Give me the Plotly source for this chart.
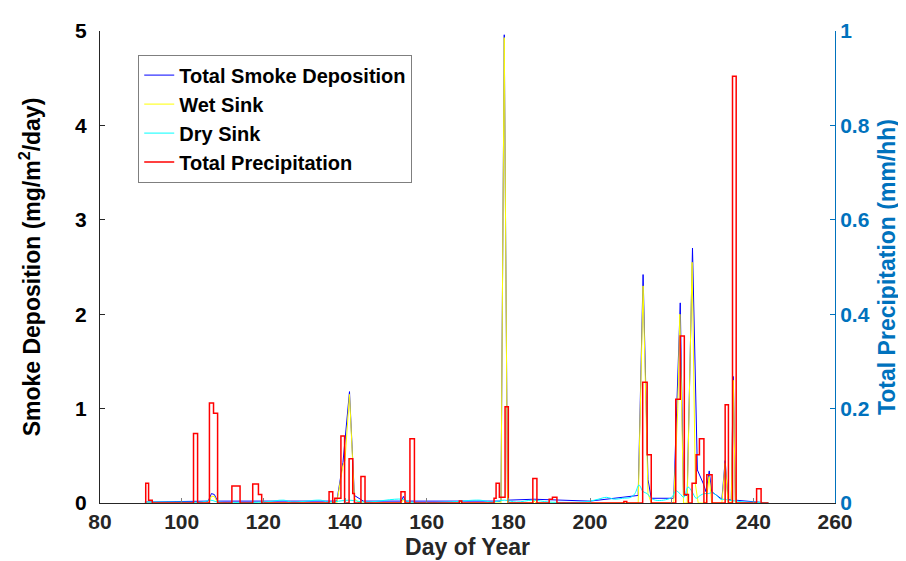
import plotly.graph_objects as go

# ---------------- data ----------------
# Total smoke deposition (mg/m^2/day)
total_day = [91.0, 106.5, 107.3, 108.0, 108.8, 138.0, 139.5, 141.1, 142.3, 143.5, 144.5,
             153.8, 154.3, 154.8, 178.2, 179.0, 179.8, 186.3, 200.0, 211.8, 213.0, 214.2,
             215.0, 220.5, 222.1, 222.9, 223.8, 225.1, 226.3, 227.8, 228.4, 229.2, 229.8,
             232.3, 233.1, 233.8, 234.6, 235.1, 235.6, 243.7]
total_val = [0.01, 0.02, 0.10, 0.09, 0.02, 0.02, 0.43, 1.18, 0.08, 0.05, 0.02,
             0.02, 0.07, 0.02, 0.02, 4.96, 0.03, 0.04, 0.02, 0.08, 2.42, 0.25,
             0.05, 0.05, 2.12, 0.08, 0.08, 2.70, 0.35, 0.20, 0.12, 0.34, 0.12,
             0.04, 0.45, 0.04, 0.03, 1.34, 0.03, 0.0]

# Wet sink (mg/m^2/day)
wet_day = [91.0, 106.5, 107.3, 108.0, 108.8, 138.0, 139.5, 140.0, 141.1, 142.3, 143.5,
           153.8, 154.3, 154.8, 178.2, 179.0, 179.8, 186.0, 186.3, 186.8, 211.8, 213.0,
           214.2, 215.0, 220.5, 221.5, 222.0, 222.9, 223.8, 225.0, 225.8, 226.5, 228.4,
           229.2, 229.8, 232.3, 233.1, 233.8, 234.6, 235.1, 235.6, 243.7]
wet_val = [0.0, 0.0, 0.07, 0.07, 0.0, 0.0, 0.40, 0.45, 1.15, 0.05, 0.0,
           0.0, 0.04, 0.0, 0.0, 4.93, 0.0, 0.0, 0.02, 0.0, 0.0, 2.30,
           0.10, 0.0, 0.0, 1.00, 2.00, 0.0, 0.0, 2.55, 0.20, 0.0, 0.0,
           0.28, 0.0, 0.0, 0.42, 0.0, 0.0, 1.30, 0.0, 0.0]

# Dry sink (mg/m^2/day)
dry_day = [91, 100, 105, 107, 109, 120, 125, 127, 134, 136, 141, 145, 154, 156, 165, 173,
           176, 179, 182, 186, 190, 198, 200, 202, 204, 206, 208, 210, 211, 212, 213, 214,
           215, 216, 218, 220, 221, 222, 223, 224, 225, 226, 227, 228, 229, 230, 231, 232,
           233, 234, 236, 238, 240, 243.7]
dry_val = [0.01, 0.01, 0.01, 0.03, 0.01, 0.01, 0.03, 0.01, 0.03, 0.01, 0.03, 0.01, 0.04, 0.01,
           0.01, 0.03, 0.01, 0.03, 0.01, 0.03, 0.01, 0.01, 0.02, 0.04, 0.06, 0.04, 0.05, 0.06,
           0.10, 0.19, 0.12, 0.10, 0.05, 0.03, 0.03, 0.06, 0.13, 0.10, 0.06, 0.17, 0.12, 0.05,
           0.08, 0.10, 0.10, 0.11, 0.08, 0.04, 0.04, 0.03, 0.02, 0.01, 0.01, 0.0]

# Total precipitation (mm/hh), step values starting at each day
precip_day = [91.0, 91.2, 91.9, 92.8, 102.9, 103.9, 106.8, 107.8, 108.8, 112.3, 114.3,
              117.4, 118.8, 119.6, 136.1, 137.0, 137.5, 139.0, 139.9, 141.0, 141.9, 142.3,
              143.9, 144.9, 153.7, 154.7, 155.9, 157.0, 168.0, 168.6, 176.5, 177.0, 177.8,
              179.2, 180.0, 186.0, 187.0, 190.0, 190.8, 191.9, 208.3, 209.0, 212.9, 214.0,
              215.0, 221.0, 222.1, 223.1, 224.1, 225.0, 226.0, 226.8, 227.9, 228.6, 229.9,
              233.1, 233.9, 234.9, 235.8, 240.8, 241.9, 243.7]
precip_val = [0.0, 0.042, 0.006, 0.0, 0.147, 0.0, 0.212, 0.19, 0.0, 0.036, 0.0,
              0.04, 0.018, 0.0, 0.024, 0.0, 0.01, 0.142, 0.0, 0.094, 0.02, 0.0,
              0.056, 0.0, 0.024, 0.0, 0.136, 0.0, 0.004, 0.0, 0.01, 0.042, 0.012,
              0.204, 0.0, 0.052, 0.0, 0.008, 0.012, 0.0, 0.003, 0.0, 0.256, 0.102,
              0.0, 0.22, 0.354, 0.018, 0.0, 0.042, 0.102, 0.136, 0.0, 0.06, 0.0,
              0.208, 0.0, 0.904, 0.0, 0.03, 0.0, 0.0]

x_ticks = [80, 100, 120, 140, 160, 180, 200, 220, 240, 260]
y_ticks = [0, 1, 2, 3, 4, 5]
y2_ticks = [0, 0.2, 0.4, 0.6, 0.8, 1]

# ---------------- figure ----------------
FONT = "Liberation Sans, Arial, Helvetica, sans-serif"
RIGHT_COLOR = "#0072BD"

fig = go.Figure()
fig.add_trace(go.Scatter(x=total_day, y=total_val, mode="lines", name="Total Smoke Deposition",
                         line=dict(color="#0000ff", width=1)))
fig.add_trace(go.Scatter(x=wet_day, y=wet_val, mode="lines", name="Wet Sink",
                         line=dict(color="#ffff00", width=1)))
fig.add_trace(go.Scatter(x=dry_day, y=dry_val, mode="lines", name="Dry Sink",
                         line=dict(color="#00ffff", width=1, shape="spline")))
fig.add_trace(go.Scatter(x=precip_day, y=precip_val, mode="lines", name="Total Precipitation",
                         line=dict(color="#ff0000", width=1.5, shape="hv"), yaxis="y2"))

fig.update_layout(
    width=906, height=561,
    margin=dict(l=92, r=79, t=23, b=66),
    paper_bgcolor="white", plot_bgcolor="white",
    font=dict(family=FONT, size=20, color="#000000", weight="bold"),
    showlegend=True,
    legend=dict(x=0.052, y=0.95, xanchor="left", yanchor="top",
                bgcolor="white", bordercolor="#7f7f7f", borderwidth=1,
                font=dict(family=FONT, size=20, color="#000000", weight="bold"),
                itemwidth=30, tracegroupgap=0),
    xaxis=dict(range=[80, 260], tickvals=x_ticks, ticks="inside", ticklen=5,
               tickcolor="#7f7f7f", showline=True, linecolor="#262626", linewidth=1,
               showgrid=False, zeroline=False,
               tickfont=dict(family=FONT, size=21, color="#262626", weight="bold"),
               title=dict(text="Day of Year", standoff=6,
                          font=dict(family=FONT, size=23, color="#262626", weight="bold"))),
    yaxis=dict(range=[0, 5], tickvals=y_ticks, ticks="inside", ticklen=5,
               ticklabelstandoff=8,
               tickcolor="#262626", showline=True, linecolor="#262626", linewidth=1,
               showgrid=False, zeroline=False,
               tickfont=dict(family=FONT, size=21, color="#000000", weight="bold"),
               title=dict(text="Smoke Deposition (mg/m<sup>2</sup>/day)", standoff=28,
                          font=dict(family=FONT, size=23, color="#000000", weight="bold"))),
    yaxis2=dict(range=[0, 1], tickvals=y2_ticks, overlaying="y", side="right",
                ticks="inside", ticklen=5, tickcolor=RIGHT_COLOR,
                showline=True, linecolor=RIGHT_COLOR, linewidth=1,
                showgrid=False, zeroline=False,
                tickfont=dict(family=FONT, size=21, color=RIGHT_COLOR, weight="bold"),
                title=dict(text="Total Precipitation (mm/hh)", standoff=10,
                           font=dict(family=FONT, size=23, color=RIGHT_COLOR, weight="bold"))),
)

fig.write_html("out.html")
